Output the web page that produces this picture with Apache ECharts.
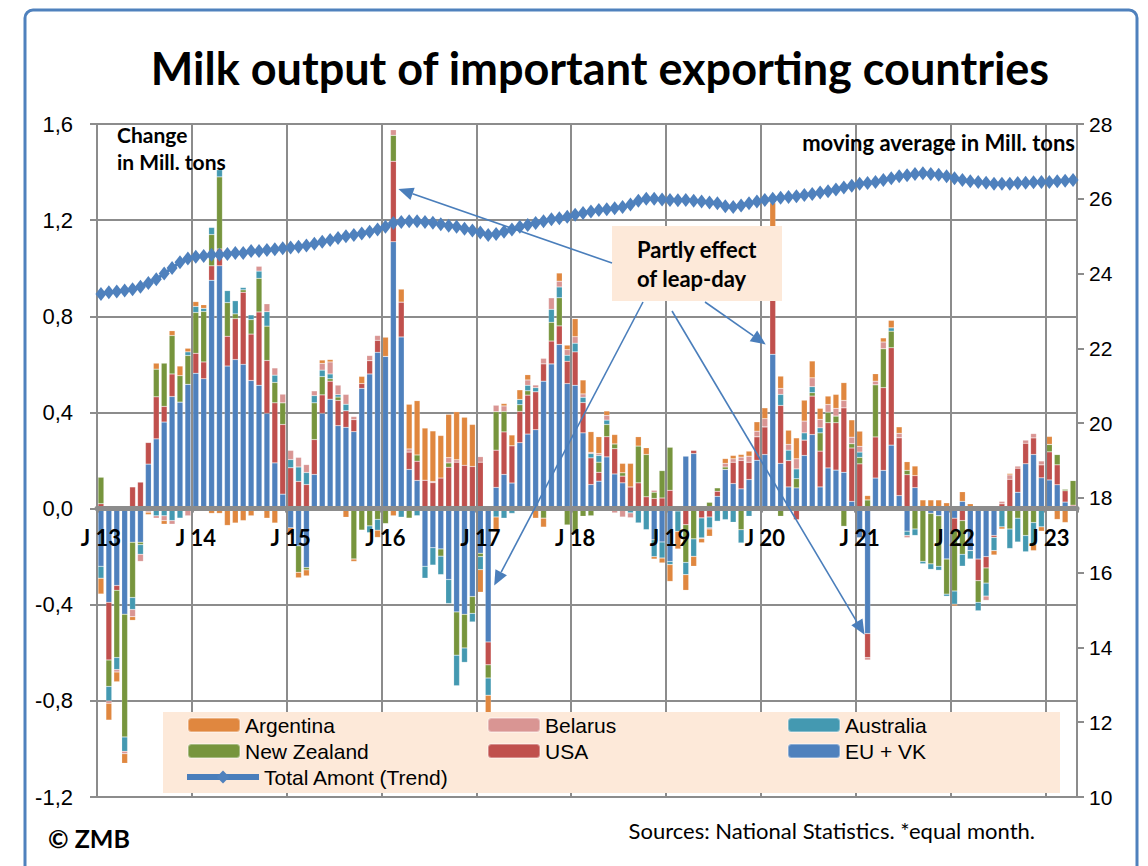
<!DOCTYPE html>
<html>
<head>
<meta charset="utf-8">
<script src="https://cdn.jsdelivr.net/npm/echarts@6/dist/echarts.min.js"></script>
<style>
html,body{margin:0;padding:0;background:#fff;}
#chart{width:1148px;height:866px;}
</style>
</head>
<body>
<div id="chart"></div>
<script>
// Month letters and years used for the category labels (Jan 2013 - Apr 2023)
const monthLetters = ['J','F','M','A','M','J','J','A','S','O','N','D'];
const years = ['13','14','15','16','17','18','19','20','21','22','23'];
const monthCount = 124;
const categories = [];
for (let y = 0; y < years.length; y++) {
  for (let m = 0; m < 12; m++) {
    if (categories.length < monthCount) categories.push(monthLetters[m] + ' ' + years[y]);
  }
}

// Change vs. previous year, Mill. tons
const euVk = [
-0.24,-0.39,-0.32,-0.44,-0.14,-0.14,0.185,0.29,0.36,0.466,0.443,0.517,
0.563,0.54,0.95,1.01,0.593,0.62,0.6,0.533,0.513,0.396,0.19,0.06,
-0.08,-0.155,-0.245,0.142,0.396,0.455,0.345,0.338,0.32,0.5,0.56,0.65,
0.633,1.11,0.714,0.163,0.117,-0.24,-0.163,-0.168,-0.295,-0.43,-0.44,-0.366,
-0.186,-0.555,0.088,0.142,0.106,0.274,0.31,0.328,0.53,0.602,0.683,0.52,
0.513,0.315,0.1,0.114,0.215,0.144,0.107,0,0,0,-0.13,-0.139,
-0.22,-0.01,0.218,0.229,0,0,0.051,0.163,0.104,0.082,0.121,0.201,
0.225,0.642,0.188,0.09,0.086,0.221,0.308,0.09,0.169,0.16,0.151,0.03,
-0.121,-0.52,0.127,0.159,0.264,0.054,-0.094,0.087,0,-0.02,-0.03,-0.21,
-0.04,0.03,-0.175,-0.21,-0.2,-0.112,0,0,0.068,0.186,0.225,0.128,
0.119,0.099,0.027,0
];
const usa = [
0.02,-0.24,-0.02,0,0.09,0.11,0.09,0.175,0.065,0.094,0,0,
0.083,0.07,0.06,0.07,0.124,0.17,0.3,0.193,0.305,0.22,0.25,0.29,
0.17,0.113,0.1,0.145,0.077,0.075,0.105,0.069,0.05,0.02,0.055,0.05,
0,0.335,0.145,0.072,0.08,0.118,0.108,0.127,0.172,0.193,0.18,0.175,
0.193,-0.095,0.155,0.177,0.155,0.13,0.162,0.158,0.072,0.095,0.077,0.093,
0.139,0.126,0.111,0.037,0.084,0.105,0.028,0.09,0.107,0.049,0.042,0.044,
0.076,0,-0.067,0.013,-0.039,-0.035,0.021,0,0.089,0.118,0.072,0.098,
0.115,0.33,0.241,0.11,-0.046,0.064,0.16,0.149,0.188,0.197,0.268,0.222,
0.186,-0.1,0.171,0.344,0.405,0.241,0.141,0.05,0,0,0,0,
-0.054,-0.05,0,-0.09,-0.047,-0.008,0.02,0.122,0.1,0.086,0.069,0.054,
0.117,0.083,0.047,0.014
];
const newZealand = [
0.11,-0.11,-0.28,-0.51,-0.23,-0.01,0,0.115,0.18,0.16,0.11,0.12,
0.17,0.21,0.13,0.30,0.14,0.02,0.01,0.06,0.14,0.143,0.085,0.09,
0,-0.11,-0.01,0.153,0.076,0.01,0.014,0,-0.21,-0.09,-0.072,-0.045,
-0.063,0.108,0,-0.04,0.026,0,0,-0.03,0.018,-0.18,-0.14,-0.07,
-0.014,-0.055,0.16,0.085,0,0.028,0.018,0,-0.04,0.078,0.117,-0.068,
-0.105,-0.032,-0.03,0.042,0.051,0.02,0.014,0,0.153,0.176,0.026,0.114,
0.179,0,-0.157,-0.126,0,0.026,0.014,0.01,0,-0.088,0,0,
0,0.08,-0.032,0,0.038,0,0.014,0.076,0.044,0.028,-0.074,0.018,
0.027,0.036,0.217,0.162,0.069,0,0.018,-0.085,-0.22,-0.21,-0.21,-0.146,
-0.249,-0.14,0,-0.09,-0.063,0,0,-0.085,-0.04,-0.112,-0.058,0,
0.031,0.043,0.007,0.103
];
const australia = [
-0.05,-0.06,-0.05,-0.06,-0.05,-0.04,-0.01,-0.03,-0.03,-0.05,-0.04,0.015,
0.025,0.013,0.03,0.03,0.05,0.055,0.01,0.02,0.03,0.06,0.03,0,
0.034,0.06,0.05,0.03,0.027,0.02,0.01,0.027,0,0,-0.028,-0.045,
0,0,-0.036,0,-0.03,-0.05,-0.072,-0.077,-0.1,-0.127,-0.06,-0.036,
-0.054,-0.072,-0.035,-0.04,-0.02,0.022,0.023,0.017,0,0.054,0.045,0.025,
0.036,0.022,0.018,0.028,0.018,0,0,-0.018,-0.06,-0.088,-0.07,-0.067,
-0.013,-0.085,-0.051,-0.073,-0.083,-0.045,-0.053,-0.046,-0.057,-0.055,-0.032,0,
0,0.04,0.046,0.043,0.041,0.03,0.025,0.021,0,0,0,0,
0.022,0,0,0,0.014,0,-0.018,-0.027,-0.01,-0.023,-0.017,-0.009,
-0.055,-0.05,-0.035,-0.036,-0.054,-0.055,-0.076,-0.081,-0.099,-0.068,-0.09,-0.076,
0,0,0,0
];
const belarus = [
0,-0.01,-0.01,-0.01,-0.03,-0.03,-0.005,-0.01,-0.02,-0.015,0,-0.03,
0,0,0,0,0,0,0,0,0.02,0.033,0.03,0.036,
0.038,0.04,0.033,0.02,0.028,0.05,0.04,0.041,0.013,0,0.022,0.02,
0,0.023,0,0.013,0,0,0.005,0,0.022,0.01,0,0,
0.023,0,0.027,0.023,0,0,0.022,0.011,0.023,0.048,0.024,0.023,
0.027,0.014,0.005,0.008,0.02,-0.018,-0.035,-0.02,0,0,0.008,0,
0,0,0,0,-0.003,-0.005,0,0.015,0.014,0.014,0.025,0.023,
0.034,0.04,0.025,0.024,0.042,0.049,0.037,0.035,0.032,0.032,0.031,0.027,
0.024,-0.01,0.015,0.028,0,0.018,-0.009,0,0,0,0,0,
0,0,0,0,-0.018,0,0.01,0.018,0.009,0.013,0.018,0.016,
0,0,0,0
];
const argentina = [
-0.065,-0.07,-0.04,-0.04,-0.015,0,-0.01,0.025,-0.015,0.02,0.04,0.015,
0.02,0.015,-0.02,-0.02,-0.07,-0.06,-0.05,-0.03,-0.005,-0.04,-0.06,-0.01,
-0.03,-0.023,-0.025,0,0.014,0.01,0,-0.036,-0.01,0.03,0,-0.03,
0.08,-0.03,0.054,0.186,0.226,0.217,0.21,0.177,0.18,0.2,0.2,0.175,
-0.094,-0.08,-0.06,0.01,0.045,0.04,0.022,-0.04,-0.037,0,0.034,0.019,
0.075,0.058,0.086,0.07,0.018,0.039,0.039,0.098,0.039,0.028,-0.01,-0.02,
-0.07,-0.073,-0.065,-0.041,-0.017,-0.03,0,0.02,0.014,0.011,0.021,0.039,
0.045,0.14,0.051,0.059,0.087,0.087,0.07,0.046,0.035,0.058,0.074,0.072,
0.063,0.018,0.031,0.017,0.031,0.027,0.036,0.04,0.036,0.036,0.036,0.024,
-0.007,0.04,0.02,0,0,-0.018,-0.009,0.006,0,0,-0.027,-0.018,
0.033,-0.045,-0.058,0
];
// Moving average, total amount in Mill. tons (right axis)
const trend = [
23.45,23.5,23.52,23.55,23.58,23.65,23.75,23.85,24.0,24.15,24.3,24.4,
24.45,24.47,24.5,24.5,24.52,24.55,24.55,24.6,24.6,24.63,24.65,24.68,
24.7,24.72,24.75,24.8,24.85,24.9,24.95,25.0,25.03,25.07,25.12,25.18,
25.25,25.35,25.38,25.4,25.4,25.38,25.36,25.32,25.28,25.25,25.2,25.15,
25.1,25.03,25.06,25.12,25.18,25.25,25.3,25.35,25.4,25.45,25.48,25.52,
25.57,25.62,25.66,25.7,25.72,25.75,25.78,25.85,25.95,26.0,26.0,25.98,
25.97,25.96,25.97,25.95,25.93,25.9,25.88,25.8,25.78,25.82,25.88,25.93,
25.97,26.0,26.03,26.05,26.07,26.1,26.13,26.17,26.2,26.25,26.3,26.35,
26.4,26.42,26.45,26.5,26.55,26.6,26.63,26.66,26.68,26.66,26.64,26.6,
26.55,26.5,26.47,26.45,26.43,26.4,26.4,26.4,26.42,26.43,26.44,26.45,
26.45,26.47,26.48,26.5
];
// Leap-day annotation targets (category index, value pointed at)
const leapIdx = [37, 49, 85, 97];
const leapVal = [1.33, -0.32, 0.683, -0.525];

const COL = {
  arg:'#E0873F', bel:'#D99593', aus:'#4499B1', nz:'#77953D', usa:'#C0504D', eu:'#4F81BD', line:'#4A7EBB'
};
const grey = '#8C8C8C';
const calibri = 'Lato, "Open Sans", sans-serif';
const arial = '"Liberation Sans", Arial, sans-serif';

function barSeries(name, data, color) {
  return {
    name: name, type: 'bar', stack: 'total', data: data, barWidth: '74%',
    itemStyle: { color: color, borderColor: 'rgba(255,255,255,0.35)', borderWidth: 0.5 },
    z: 2
  };
}
const everyYear = (i) => i % 12 === 0;

const legendText = { fontFamily: arial, fontSize: 21, color: '#000', lineHeight: 22 };
function legend(left, top, data, w) {
  return {
    orient: 'vertical', left: left, top: top, data: data, itemWidth: w || 52, itemHeight: 14,
    itemGap: 4, textStyle: legendText, selectedMode: false, z: 6, padding: 0
  };
}

const staticGraphic = [
  { id:'frame', type:'rect', shape:{ x:25, y:10, width:1112, height:900, r:8 },
    style:{ fill:'none', stroke:'#4F81BD', lineWidth:3 }, z:1, silent:true },
  { id:'title', type:'text', x:600, y:68, style:{ text:'Milk output of important exporting countries',
    font:'bold 45px ' + calibri, fill:'#000', textAlign:'center', textVerticalAlign:'middle' }, z:6 },
  { id:'lunit1', type:'text', x:117, y:124, style:{ text:'Change', font:'bold 21px ' + calibri, fill:'#000',
    textVerticalAlign:'top' }, z:6 },
  { id:'lunit2', type:'text', x:117, y:151, style:{ text:'in Mill. tons', font:'bold 21px ' + calibri, fill:'#000',
    textVerticalAlign:'top' }, z:6 },
  { id:'runit', type:'text', x:1075, y:131, style:{ text:'moving average in Mill. tons', font:'bold 22px ' + calibri,
    fill:'#000', textAlign:'right', textVerticalAlign:'top' }, z:6 },
  { id:'legbg', type:'rect', shape:{ x:163, y:712, width:897, height:81 }, style:{ fill:'#FDE9D9' }, z:4, silent:true },
  { id:'zmb', type:'text', x:48, y:825, style:{ text:'© ZMB', font:'bold 25px ' + calibri, fill:'#000',
    textVerticalAlign:'top' }, z:6 },
  { id:'src', type:'text', x:1035, y:819, style:{ text:'Sources: National Statistics. *equal month.',
    font:'22px ' + calibri, fill:'#000', textAlign:'right', textVerticalAlign:'top' }, z:6 },
  { id:'callbox', type:'rect', shape:{ x:612, y:226, width:170, height:75 }, style:{ fill:'#FDE9D9' }, z:6, silent:true },
  { id:'calltxt', type:'text', x:637, y:235, style:{ text:'Partly effect\nof leap-day', font:'bold 22px ' + calibri,
    fill:'#000', lineHeight:29, textVerticalAlign:'top' }, z:7 }
];

const option = {
  animation: false,
  grid: { left: 97, right: 71, top: 124, bottom: 69, containLabel: false },
  legend: [
    legend(187, 714, ['Argentina', 'New Zealand']),
    legend(487, 714, ['Belarus', 'USA']),
    legend(787, 714, ['Australia', 'EU + VK']),
    Object.assign(legend(184, 766, ['Total Amont (Trend)'], 72), { itemHeight: 16, lineStyle: { width: 6 } })
  ],
  xAxis: {
    type: 'category', data: categories, z: 3,
    axisLine: { onZero: true, onZeroAxisIndex: 0, lineStyle: { color: grey, width: 5 } },
    axisTick: { show: true, interval: everyYear, length: 4, lineStyle: { color: grey, width: 3 } },
    axisLabel: { show: false },
    splitLine: { show: true, interval: everyYear, lineStyle: { color: grey, width: 2 } }
  },
  yAxis: [
    {
      type: 'value', min: -1.2, max: 1.6, interval: 0.4,
      axisLine: { show: true, onZero: false, lineStyle: { color: grey, width: 2 } },
      axisTick: { show: true, length: 7, lineStyle: { color: grey, width: 2 } },
      axisLabel: { formatter: (v) => v.toFixed(1).replace('.', ','), margin: 24, color: '#000',
        fontFamily: arial, fontSize: 22 },
      splitLine: { show: true, lineStyle: { color: grey, width: 2 } }
    },
    {
      type: 'value', min: 10, max: 28, interval: 2, position: 'right',
      axisLine: { show: true, onZero: false, lineStyle: { color: grey, width: 2 } },
      axisTick: { show: true, length: 7, lineStyle: { color: grey, width: 2 } },
      axisLabel: { margin: 12, color: '#000', fontFamily: arial, fontSize: 21 },
      splitLine: { show: false }
    }
  ],
  series: [
    barSeries('EU + VK', euVk, COL.eu),
    barSeries('USA', usa, COL.usa),
    barSeries('New Zealand', newZealand, COL.nz),
    barSeries('Australia', australia, COL.aus),
    barSeries('Belarus', belarus, COL.bel),
    barSeries('Argentina', argentina, COL.arg),
    {
      name: 'Total Amont (Trend)', type: 'line', yAxisIndex: 1, data: trend,
      symbol: 'diamond', symbolSize: [11, 14], showAllSymbol: true,
      lineStyle: { color: COL.line, width: 3 }, itemStyle: { color: COL.eu }, z: 5
    }
  ],
  graphic: { elements: staticGraphic }
};

const chart = echarts.init(document.getElementById('chart'), null, { renderer: 'svg' });
chart.setOption(option);

const extraEls = [];
// Year labels ("J 13" ...) set just below the zero line, placed through the category scale
for (let i = 0; i < categories.length; i++) {
  if (!everyYear(i)) continue;
  const p = chart.convertToPixel({ seriesIndex: 0 }, [i, 0]);
  extraEls.push({ id: 'xl' + i, type: 'text', x: p[0], y: p[1] + 29,
    style: { text: categories[i], font: 'bold 22px ' + calibri, fill: '#000', textAlign: 'center',
      textVerticalAlign: 'middle' }, z: 6 });
}
// Arrows from the callout box to the leap-day bars (tips located through the chart's scales)
const arrowStarts = [[612, 263], [643, 302], [705, 302], [672, 311]];
const tipShift = [5, 6, -7, -3];
for (let k = 0; k < leapIdx.length; k++) {
  const p = chart.convertToPixel({ seriesIndex: 0 }, [leapIdx[k], leapVal[k]]);
  const tx = p[0] + tipShift[k], ty = p[1];
  const sx = arrowStarts[k][0], sy = arrowStarts[k][1];
  const a = Math.atan2(ty - sy, tx - sx);
  const L = 15, W = 6.5;
  const bx = tx - L * Math.cos(a), by = ty - L * Math.sin(a);
  extraEls.push({ id: 'arl' + k, type: 'line', shape: { x1: sx, y1: sy, x2: bx, y2: by },
    style: { stroke: COL.line, lineWidth: 1.6 }, z: 8, silent: true });
  extraEls.push({ id: 'arh' + k, type: 'polygon', shape: { points: [[tx, ty],
    [bx + W * Math.sin(a), by - W * Math.cos(a)], [bx - W * Math.sin(a), by + W * Math.cos(a)]] },
    style: { fill: COL.line }, z: 8, silent: true });
}
chart.setOption({ graphic: { elements: staticGraphic.concat(extraEls) } });
</script>
</body>
</html>
